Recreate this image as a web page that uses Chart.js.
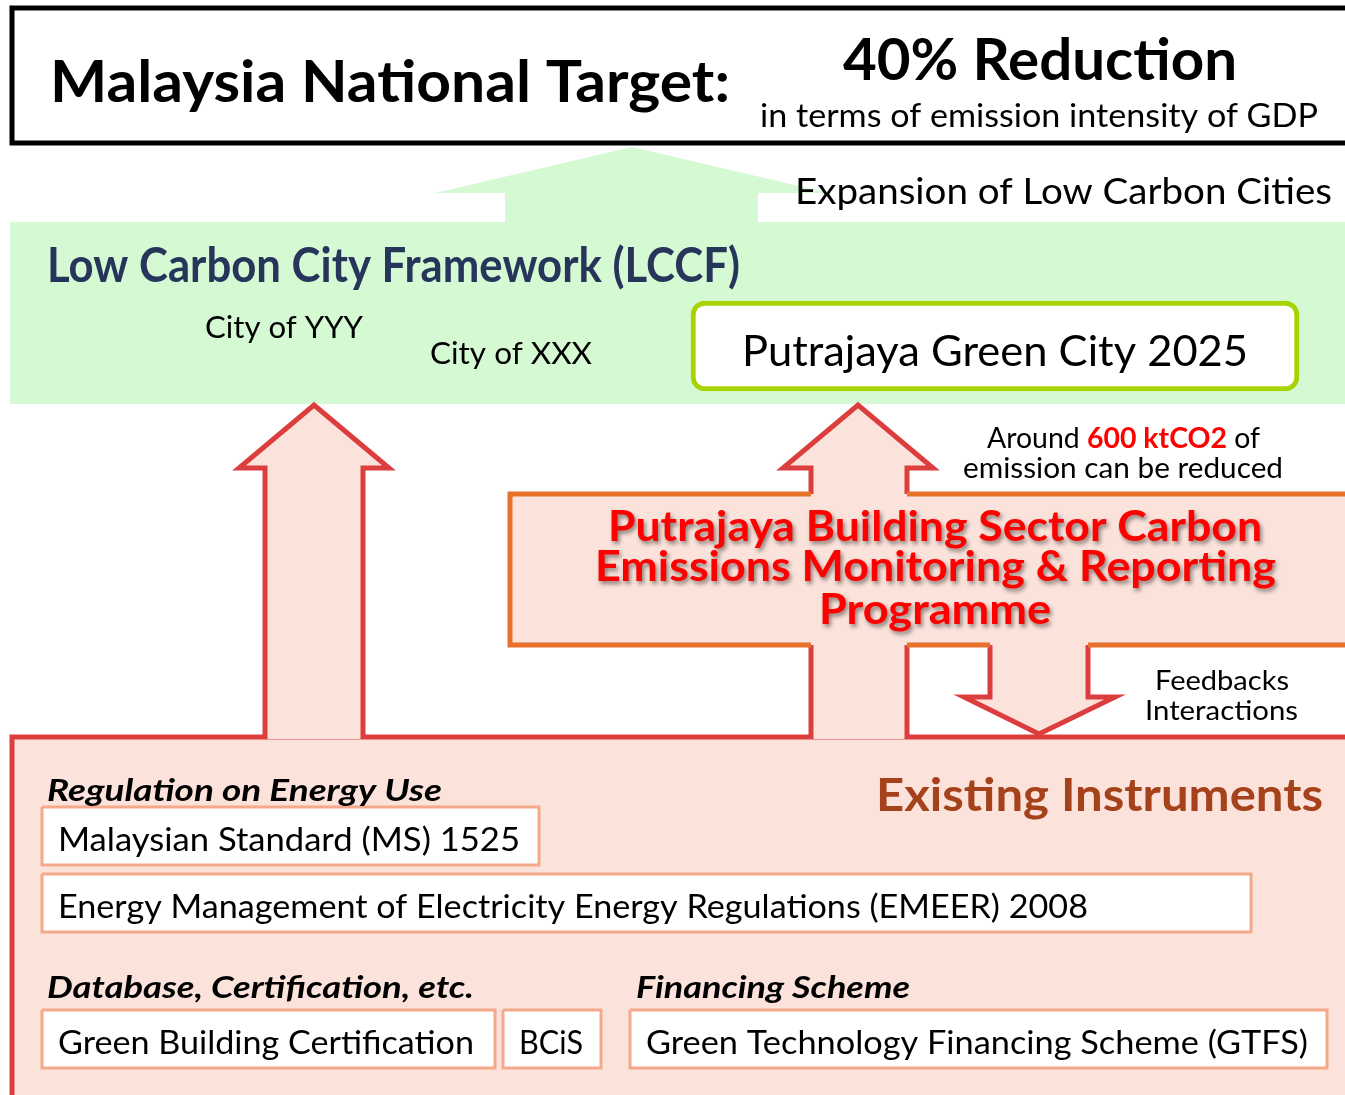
<!DOCTYPE html>
<html>
<head>
<meta charset="utf-8">
<script src="https://cdn.jsdelivr.net/npm/chart.js@4.4.1/dist/chart.umd.min.js"></script>
<style>
  html, body { margin: 0; padding: 0; background: #fff; }
  canvas { display: block; }
</style>
</head>
<body>
<canvas id="diagram" width="1345" height="1095"></canvas>
<script>
// --- outlines, in slide pixels [x, y] (y grows downward) ---
const topBox = [[1360, 8], [12, 8], [12, 143], [1360, 143], [1360, 8]];
const greenBand = [[10, 222], [1360, 222], [1360, 404], [10, 404], [10, 222]];
const greenArrow = [[505, 223], [505, 193], [435, 193], [632, 147], [829, 193], [758, 193], [758, 223]];
const bottomBox = [[1360, 737], [12, 737], [12, 1110], [1360, 1110], [1360, 737]];
const leftArrow = [[265, 739], [265, 468], [239, 468], [314, 405], [389, 468], [363, 468], [363, 739]];
const rightArrow = [[811, 739], [811, 468], [783, 468], [858, 405], [933, 468], [907, 468], [907, 739]];
const downArrow = [[990, 640], [990, 697], [964, 697], [1039, 734], [1115, 697], [1088, 697], [1088, 640]];
const programmeArea = [[1360, 494], [510, 494], [510, 645], [1360, 645], [1360, 494]];
// visible parts of the programme border (left open where the arrows pass)
const programmeEdges = [
  [[1360, 494], [907, 494]],
  [[811, 494], [510, 494], [510, 645], [811, 645]],
  [[990, 645], [907, 645]],
  [[1360, 645], [1088, 645]]
];
// instrument boxes: [left, top, right, bottom]
const instrumentBoxes = [[42, 807, 539, 865], [42, 874, 1251, 932], [42, 1010, 495, 1068],
                         [503, 1010, 601, 1068], [630, 1010, 1327, 1068]];
const cityBox = {from: 691, to: 1299, y: 346};

// --- texts ---
const headerLines = ['Malaysia National Target:', '40% Reduction',
                     'in terms of emission intensity of GDP', 'Expansion of Low Carbon Cities'];
const frameworkLines = ['Low Carbon City Framework (LCCF)', 'City of YYY', 'City of XXX', 'Putrajaya Green City 2025'];
const reductionRuns = ['Around ', '600 ktCO2', ' of'];
const reductionLine = 'emission can be reduced';
const programmeLines = ['Putrajaya Building Sector Carbon', 'Emissions Monitoring & Reporting', 'Programme'];
const feedbackLines = ['Feedbacks', 'Interactions'];
const instrumentHeadings = ['Existing Instruments', 'Regulation on Energy Use',
                            'Database, Certification, etc.', 'Financing Scheme'];
const instrumentItems = ['Malaysian Standard (MS) 1525',
                         'Energy Management of Electricity Energy Regulations (EMEER) 2008',
                         'Green Building Certification', 'BCiS', 'Green Technology Financing Scheme (GTFS)'];

const GREEN = '#d5fad3', PINK = '#fbe3db', RED = '#dc3e3e', ORANGE = '#e8712c';
const SALMON = '#f3a98a', LIME = '#a7d400', NAVY = '#27355a', BROWN = '#a5411b';

function shape(pts, o) {
  return {
    type: 'line',
    data: pts.map(([x, y]) => ({x, y})),
    borderColor: o.stroke || 'rgba(0,0,0,0)',
    borderWidth: o.width || 0,
    backgroundColor: o.fill || 'rgba(0,0,0,0)',
    fill: o.fill ? 'shape' : false,
    pointRadius: 0,
    pointHoverRadius: 0,
    tension: 0,
    borderJoinStyle: 'miter',
    borderCapStyle: 'butt'
  };
}
const rect = ([l, t, r, b]) => [[l, t], [r, t], [r, b], [l, b], [l, t]];

const datasets = [
  shape(greenBand, {fill: GREEN}),
  shape(greenArrow, {fill: GREEN}),
  shape(topBox, {stroke: '#000', width: 5}),
  shape(bottomBox, {fill: PINK, stroke: RED, width: 5}),
  shape(leftArrow, {fill: PINK, stroke: RED, width: 5}),
  shape(rightArrow, {fill: PINK, stroke: RED, width: 5}),
  shape(downArrow, {fill: PINK, stroke: RED, width: 5}),
  shape(programmeArea, {fill: PINK}),
  ...programmeEdges.map(e => shape(e, {stroke: ORANGE, width: 5})),
  ...instrumentBoxes.map(b => shape(rect(b), {fill: '#fff', stroke: SALMON, width: 3})),
  {
    type: 'bar', indexAxis: 'y',
    data: [{x: [cityBox.from, cityBox.to], y: cityBox.y}],
    backgroundColor: '#fff', borderColor: LIME, borderWidth: 5,
    borderRadius: 14, borderSkipped: false, barThickness: 90
  }
];
// first listed = bottom layer
datasets.forEach((d, i) => { d.order = datasets.length - i; });

const labels = [
  {t: headerLines[0], x: 50, y: 102, w: 680, size: 58, bold: true},
  {t: headerLines[1], x: 843, y: 80, w: 394, size: 58, bold: true},
  {t: headerLines[2], x: 760, y: 127, w: 558, size: 32},
  {t: headerLines[3], x: 795, y: 204, w: 537, size: 36},
  {t: frameworkLines[0], x: 47, y: 282, w: 693, size: 47, bold: true, color: NAVY},
  {t: frameworkLines[1], x: 205, y: 338, w: 158, size: 31},
  {t: frameworkLines[2], x: 430, y: 364, w: 162, size: 31},
  {t: frameworkLines[3], x: 742, y: 366, w: 506, size: 43},
  {runs: [{t: reductionRuns[0]}, {t: reductionRuns[1], bold: true, color: '#ff0000'}, {t: reductionRuns[2]}],
   x: 987, y: 448, w: 273, size: 28},
  {t: reductionLine, x: 963, y: 478, w: 320, size: 28},
  {t: programmeLines[0], x: 608, y: 541, w: 654, size: 42, bold: true, color: '#ff0000', shadow: true},
  {t: programmeLines[1], x: 595, y: 581, w: 681, size: 42, bold: true, color: '#ff0000', shadow: true},
  {t: programmeLines[2], x: 819, y: 624, w: 232, size: 42, bold: true, color: '#ff0000', shadow: true},
  {t: feedbackLines[0], x: 1155, y: 690, w: 134, size: 27},
  {t: feedbackLines[1], x: 1145, y: 720, w: 153, size: 27},
  {t: instrumentHeadings[0], x: 876, y: 811, w: 447, size: 46, bold: true, color: BROWN},
  {t: instrumentHeadings[1], x: 47, y: 801, w: 395, size: 30, bold: true, italic: true},
  {t: instrumentHeadings[2], x: 47, y: 998, w: 427, size: 30, bold: true, italic: true},
  {t: instrumentHeadings[3], x: 636, y: 998, w: 274, size: 30, bold: true, italic: true},
  {t: instrumentItems[0], x: 58, y: 851, w: 462, size: 33},
  {t: instrumentItems[1], x: 58, y: 918, w: 1030, size: 33},
  {t: instrumentItems[2], x: 58, y: 1054, w: 416, size: 33},
  {t: instrumentItems[3], x: 519, y: 1054, w: 64, size: 33},
  {t: instrumentItems[4], x: 646, y: 1054, w: 662, size: 33}
];

const fontOf = (l, r) => `${(r.italic ?? l.italic) ? 'italic ' : ''}${(r.bold ?? l.bold) ? 'bold ' : ''}${l.size}px Lato`;

const textPlugin = {
  id: 'diagramText',
  afterDatasetsDraw(chart) {
    const {ctx, scales: {x, y}} = chart;
    labels.forEach(l => {
      const runs = l.runs || [{t: l.t}];
      const px = x.getPixelForValue(l.x), py = y.getPixelForValue(l.y);
      const pw = x.getPixelForValue(l.x + l.w) - px;
      ctx.save();
      let total = 0;
      runs.forEach(r => { ctx.font = fontOf(l, r); r.mw = ctx.measureText(r.t).width; total += r.mw; });
      ctx.translate(px, py);
      ctx.scale(pw / total, 1);
      ctx.textBaseline = 'alphabetic';
      ctx.textAlign = 'left';
      if (l.shadow) {
        ctx.shadowColor = 'rgba(0,0,0,0.45)';
        ctx.shadowBlur = 4;
        ctx.shadowOffsetX = 2;
        ctx.shadowOffsetY = 3;
      }
      let cx = 0;
      runs.forEach(r => {
        ctx.font = fontOf(l, r);
        ctx.fillStyle = r.color || l.color || '#000';
        ctx.fillText(r.t, cx, 0);
        cx += r.mw;
      });
      ctx.restore();
    });
  }
};

function draw() {
  new Chart(document.getElementById('diagram'), {
    type: 'line',
    data: {datasets},
    options: {
      responsive: false,
      animation: false,
      events: [],
      layout: {padding: 0},
      plugins: {legend: {display: false}, tooltip: {enabled: false}},
      scales: {
        x: {type: 'linear', min: 0, max: 1345, display: false, offset: false},
        y: {type: 'linear', min: 0, max: 1095, reverse: true, display: false, offset: false}
      }
    },
    plugins: [textPlugin]
  });
}

Promise.all(['40px Lato', 'bold 40px Lato', 'italic bold 40px Lato'].map(f => document.fonts.load(f)))
  .then(draw, draw);
</script>
</body>
</html>
